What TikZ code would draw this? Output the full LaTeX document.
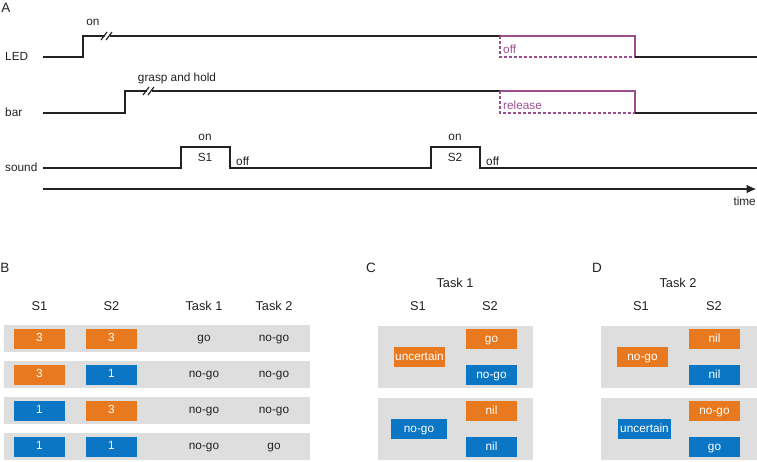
\documentclass[tikz,border=0pt]{standalone}
\usepackage{fontspec}
\setmainfont{Liberation Sans}
\usetikzlibrary{arrows.meta}
\definecolor{org}{HTML}{E8791E}
\definecolor{blu}{HTML}{0B77C4}
\definecolor{gry}{HTML}{DEDEDE}
\definecolor{pur}{HTML}{9A4F8C}
\definecolor{txt}{HTML}{222222}
\tikzset{
  sig/.style={line width=1.8pt, draw=txt, line join=miter},
  brk/.style={line width=1.2pt, draw=txt},
  psol/.style={line width=1.6pt, draw=pur},
  pdash/.style={line width=1.6pt, draw=pur, dash pattern=on 3pt off 2pt},
  lab/.style={font=\fontsize{11.8}{13}\selectfont, inner sep=0pt, text=txt, text height=8pt, text depth=2pt},
  plab/.style={lab, text=pur, anchor=west},
  head/.style={font=\fontsize{12.8}{14}\selectfont, inner sep=0pt, text=txt, text height=9pt, text depth=2pt},
  panel/.style={font=\fontsize{13.5}{15}\selectfont, inner sep=0pt, text=txt},
  rowbg/.style={fill=gry, draw=none, inner sep=0pt, minimum width=306pt, minimum height=27pt},
  grpbg/.style={fill=gry, draw=none, inner sep=0pt, minimum height=62pt},
  cbox/.style={text=white, inner sep=0pt, minimum width=51pt, minimum height=20pt,
    font=\fontsize{11.8}{13}\selectfont, text height=8pt, text depth=2pt},
  obox/.style={cbox, fill=org},
  bbox/.style={cbox, fill=blu},
}
\begin{document}
\begin{tikzpicture}[x=1pt,y=-1pt]
\useasboundingbox (0,0) rectangle (757,461);

% ---------- Panel A ----------
\node[panel] (pA) at (6,8) {A};
\node[lab, anchor=west] (lLED) at (5,57) {LED};
\node[lab, anchor=west] (lbar) at (5,113) {bar};
\node[lab, anchor=west] (lsnd) at (5,168) {sound};

% LED trace
\draw[sig] (43,57) -- (83,57) -- (83,36) -- (104.5,36);
\draw[sig] (109.5,36) -- (500,36);
\draw[brk] (101,40) -- (107,32);
\draw[brk] (106,40) -- (112,32);
\draw[psol] (500,36) -- (635,36) -- (635,57);
\draw[pdash] (500,36) -- (500,57) -- (635,57);
\draw[sig] (635,57) -- (757,57);
\node[lab] (onLED) at (93,22) {on};
\node[plab] (offLED) at (503,50) {off};

% bar trace
\draw[sig] (43,113) -- (125,113) -- (125,91) -- (146.5,91);
\draw[sig] (151.5,91) -- (500,91);
\draw[brk] (143,95) -- (149,87);
\draw[brk] (148,95) -- (154,87);
\draw[psol] (500,91) -- (635,91) -- (635,113);
\draw[pdash] (500,91) -- (500,113) -- (635,113);
\draw[sig] (635,113) -- (757,113);
\node[lab] (grasp) at (177,78) {grasp and hold};
\node[plab] (rel) at (503,106) {release};

% sound trace
\draw[sig] (43,168) -- (181,168) -- (181,147) -- (230,147) -- (230,168)
  -- (431,168) -- (431,147) -- (480,147) -- (480,168) -- (757,168);
\node[lab] (on1) at (205,137) {on};
\node[lab] (s1) at (205,158) {S1};
\node[lab, anchor=west] (off1) at (236,162) {off};
\node[lab] (on2) at (455,137) {on};
\node[lab] (s2) at (455,158) {S2};
\node[lab, anchor=west] (off2) at (486,162) {off};

% time axis
\coordinate (t0) at (43,189);
\coordinate (t1) at (756.5,189);
\draw[sig, -{Latex[length=10pt,width=9pt]}] (t0) -- (t1);
\node[lab, anchor=east] (time) at (756,202) {time};

% ---------- Panel B ----------
\node[panel] (pB) at (5,268) {B};
\node[head] (hBS1) at (39.5,307) {S1};
\node[head] (hBS2) at (111.5,307) {S2};
\node[head] (hBT1) at (204,307) {Task 1};
\node[head] (hBT2) at (274,307) {Task 2};

\node[rowbg] (r1) at (157,338.5) {};
\node[rowbg] (r2) at (157,374.5) {};
\node[rowbg] (r3) at (157,410.5) {};
\node[rowbg] (r4) at (157,446.5) {};

\node[obox] (b11) at (39.5,338.5) {3};
\node[obox] (b12) at (111.5,338.5) {3};
\node[lab] (t11) at (204,338.5) {go};
\node[lab] (t12) at (274,338.5) {no-go};

\node[obox] (b21) at (39.5,374.5) {3};
\node[bbox] (b22) at (111.5,374.5) {1};
\node[lab] (t21) at (204,374.5) {no-go};
\node[lab] (t22) at (274,374.5) {no-go};

\node[bbox] (b31) at (39.5,410.5) {1};
\node[obox] (b32) at (111.5,410.5) {3};
\node[lab] (t31) at (204,410.5) {no-go};
\node[lab] (t32) at (274,410.5) {no-go};

\node[bbox] (b41) at (39.5,446.5) {1};
\node[bbox] (b42) at (111.5,446.5) {1};
\node[lab] (t41) at (204,446.5) {no-go};
\node[lab] (t42) at (274,446.5) {go};

% ---------- Panel C ----------
\node[panel] (pC) at (371,268) {C};
\node[head] (hCT) at (455,284) {Task 1};
\node[head] (hCS1) at (418,307) {S1};
\node[head] (hCS2) at (490,307) {S2};
\node[grpbg, minimum width=155pt] (gC1) at (455.5,357) {};
\node[grpbg, minimum width=155pt] (gC2) at (455.5,429) {};
\node[obox] (c1a) at (419.5,357) {uncertain};
\node[obox] (c1b) at (491.5,339) {go};
\node[bbox] (c1c) at (491.5,375) {no-go};
\node[bbox, minimum width=56pt] (c2a) at (419,429) {no-go};
\node[obox] (c2b) at (491.5,411) {nil};
\node[bbox] (c2c) at (491.5,447) {nil};

% ---------- Panel D ----------
\node[panel] (pD) at (597,268) {D};
\node[head] (hDT) at (678,284) {Task 2};
\node[head] (hDS1) at (641,307) {S1};
\node[head] (hDS2) at (714,307) {S2};
\node[grpbg, minimum width=156pt] (gD1) at (679,357) {};
\node[grpbg, minimum width=156pt] (gD2) at (679,429) {};
\node[obox] (d1a) at (642.5,357) {no-go};
\node[obox] (d1b) at (714.5,339) {nil};
\node[bbox] (d1c) at (714.5,375) {nil};
\node[bbox, minimum width=53pt] (d2a) at (644.5,429) {uncertain};
\node[obox] (d2b) at (714.5,411) {no-go};
\node[bbox] (d2c) at (714.5,447) {go};
\end{tikzpicture}
\end{document}
